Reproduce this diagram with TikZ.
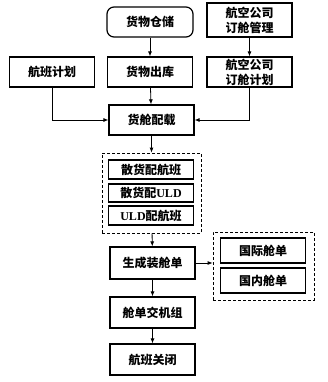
\documentclass[tikz,border=0pt]{standalone}
\usepackage{fontspec}
\setmainfont{Liberation Serif}
\newfontfamily\cjk{Noto Sans CJK SC}
\usetikzlibrary{arrows.meta}

\begin{document}
\begin{tikzpicture}[x=1pt,y=-1pt,>={Latex[length=5pt,width=4pt]},
  box/.style={draw,line width=1.2pt,minimum width=85pt,inner sep=1pt,align=center,
    font=\fontsize{12}{15}\selectfont\cjk\bfseries},
  group/.style={draw,line width=0.8pt,dash pattern=on 3pt off 2pt},
  link/.style={->,line width=0.8pt}]
  \useasboundingbox (0,0) rectangle (327,382);
  % dashed groups
  \node[group,minimum width=99pt,minimum height=80pt] (grpload) at (151.5,193) {};
  \node[group,minimum width=101pt,minimum height=68pt] (grpsheet) at (263.5,266) {};
  % boxes
  \node[box,rounded corners=7pt,minimum width=86pt,minimum height=30pt] (store) at (150,22) {货物仓储};
  \foreach \n/\x/\y/\h/\t in {
    mgmt/249.5/20/34/{航空公司\\订舱管理},
    plan/52/72/30/{航班计划},
    out/150/72/30/{货物出库},
    book/249.5/72/30/{航空公司\\订舱计划},
    load/151.5/120/30/{货舱配载},
    bulk/151/169.5/19/{散货配航班},
    gen/152.5/263/32/{生成装舱单},
    intl/263/250.5/25/{国际舱单},
    dom/263/280.5/25/{国内舱单},
    crew/152.5/312.5/31/{舱单交机组},
    close/152.5/359.5/31/{航班关闭}}{
      \node[box,minimum height=\h pt] (\n) at (\x,\y) {\t};
  }
  \node[box,minimum height=18pt] (bulkuld) at (151,193) {散货配{\rmfamily ULD}};
  \node[box,minimum height=19pt] (uldfl) at (151,215.5) {{\rmfamily ULD}配航班};
  % connectors
  \draw[link] (store) -- (out);
  \draw[link] (mgmt) -- (book);
  \draw[link] (out) -- (load);
  \draw[link] (plan) |- (load);
  \draw[link] (book) |- (load);
  \draw[link] (load) -- (grpload);
  \draw[link] (grpload) -- (gen);
  \draw[link] (gen.east) -- (gen.east -| grpsheet.west);
  \draw[link] (gen) -- (crew);
  \draw[link] (crew) -- (close);
\end{tikzpicture}
\end{document}
